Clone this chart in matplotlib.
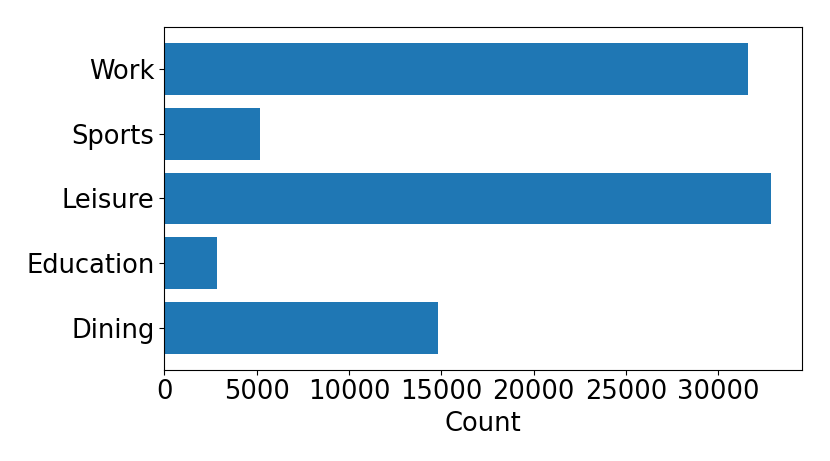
import matplotlib
matplotlib.use('Agg')
import matplotlib.pyplot as plt

# 各类别及计数
categories = ['Dining', 'Education', 'Leisure', 'Sports', 'Work']
counts = [14843, 2851, 32868, 5177, 31612]

fig, ax = plt.subplots(figsize=(8.3, 4.61), dpi=100)
ax.barh(categories, counts, color='#1f77b4')
ax.set_xlabel('Count', fontsize=18.5)
ax.tick_params(axis='both', labelsize=18.5)
fig.subplots_adjust(left=0.198, right=0.966, top=0.941, bottom=0.198)
fig.savefig('out.png', dpi=100)
